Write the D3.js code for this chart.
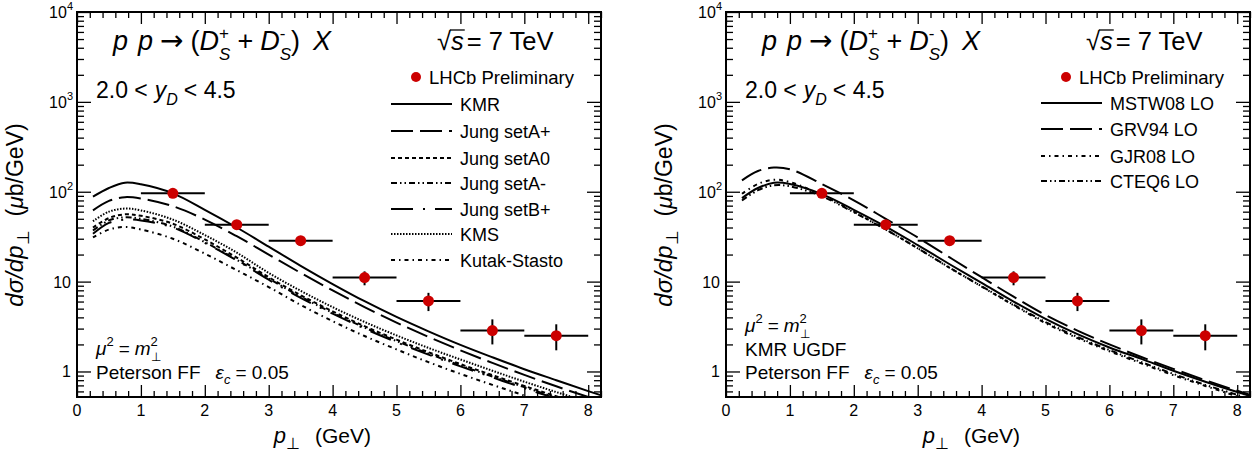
<!DOCTYPE html>
<html><head><meta charset="utf-8">
<script src="https://cdn.jsdelivr.net/npm/d3@7"></script>
<style>
body{margin:0;background:#fff}
svg{display:block}
text{font-family:"Liberation Sans", Arial, Helvetica, sans-serif; fill:#000}
</style>
</head><body>
<svg id="c" width="1259" height="463"></svg>
<script>
// ---------------- data ----------------
const ptGrid = [0.25, 0.5, 0.75, 1.0, 1.5, 2.0, 2.5, 3.0, 3.5, 4.0, 4.5, 5.0, 5.5, 6.0, 6.5, 7.0, 7.5, 8.0, 8.5];

// left panel: UGDF comparison
const kmr          = [88, 110, 126, 121, 96, 63, 40, 24.5, 15.0, 9.4, 6.05, 4.05, 2.8, 1.98, 1.44, 1.06, 0.8, 0.605, 0.465];
const jungSetAp    = [62, 79, 87, 84, 69, 49, 32, 20, 12.5, 7.98, 5.2, 3.5, 2.43, 1.72, 1.245, 0.916, 0.684, 0.52, 0.40];
const jungSetA0    = [40, 51, 56, 54, 44, 29.5, 18.5, 11.2, 7.06, 4.67, 3.19, 2.26, 1.64, 1.21, 0.91, 0.69, 0.53, 0.41, 0.32];
const jungSetAm    = [37, 48, 52, 50, 41, 27.5, 17.5, 10.8, 6.8, 4.5, 3.08, 2.18, 1.58, 1.17, 0.88, 0.67, 0.51, 0.39, 0.31];
const jungSetBp    = [34, 45, 49, 48, 40, 27, 17.2, 10.5, 6.6, 4.4, 3.0, 2.12, 1.54, 1.14, 0.86, 0.65, 0.5, 0.38, 0.30];
const kms          = [47, 60, 65, 62, 49, 33, 21, 12.5, 7.9, 5.2, 3.56, 2.52, 1.83, 1.36, 1.02, 0.77, 0.59, 0.46, 0.36];
const kutakStasto  = [31, 38, 40.5, 38, 30, 20.5, 13.4, 8.7, 5.5, 3.63, 2.48, 1.76, 1.27, 0.94, 0.71, 0.54, 0.41, 0.32, 0.25];

// right panel: PDF comparison
const mstw08 = [85, 110, 126, 122, 94, 63, 41, 25.5, 15.6, 9.7, 6.0, 3.85, 2.6, 1.85, 1.38, 1.02, 0.77, 0.59, 0.46];
const grv94  = [134, 170, 186, 178, 122, 80, 50, 31, 18.6, 11.2, 6.8, 4.25, 2.85, 2.0, 1.45, 1.07, 0.8, 0.61, 0.47];
const gjr08  = [95, 122, 136, 128, 92, 60, 38, 23.5, 14.2, 8.8, 5.45, 3.45, 2.35, 1.68, 1.23, 0.91, 0.69, 0.53, 0.41];
const cteq6  = [80, 104, 118, 115, 89, 59, 38, 23.5, 14.3, 8.9, 5.55, 3.55, 2.42, 1.73, 1.27, 0.94, 0.71, 0.55, 0.42];

// LHCb preliminary data
const dataPt      = [1.5, 2.5, 3.5, 4.5, 5.5, 6.5, 7.5];
const dataVal     = [96, 43, 28.5, 11.1, 6.1, 2.85, 2.5];
const dataErrUp   = [3, 1.5, 1, 1.9, 1.4, 0.95, 0.85];
const dataErrDown = [3, 1.5, 1, 2.0, 1.4, 0.85, 0.78];
const binHalf = 0.5;

const xTickValues = [0, 1, 2, 3, 4, 5, 6, 7, 8];
const yTickValues = [1, 10, 100, 1000, 10000];
const yTickBase   = ["1", "10", "10", "10", "10"];
const yTickExp    = ["", "", "2", "3", "4"];

const leftNames  = ["KMR", "Jung setA+", "Jung setA0", "Jung setA-", "Jung setB+", "KMS", "Kutak-Stasto"];
const rightNames = ["MSTW08 LO", "GRV94 LO", "GJR08 LO", "CTEQ6 LO"];

// ---------------- styles ----------------
const DASH = {
  solid: null,
  longDash: "22,7",
  shortDash: "4,3",
  dashDotDot: "6,3,1.5,3,1.5,3",
  longDashDot: "22,10,2,10",
  dotted: "1.5,1.5",
  dashDot: "4,4,1.5,4"
};

const leftSeries = [
  {name: leftNames[0], values: kmr, dash: DASH.solid},
  {name: leftNames[1], values: jungSetAp, dash: DASH.longDash},
  {name: leftNames[2], values: jungSetA0, dash: DASH.shortDash},
  {name: leftNames[3], values: jungSetAm, dash: DASH.dashDotDot},
  {name: leftNames[4], values: jungSetBp, dash: DASH.longDashDot},
  {name: leftNames[5], values: kms, dash: DASH.dotted},
  {name: leftNames[6], values: kutakStasto, dash: DASH.dashDot}
];
const rightSeries = [
  {name: rightNames[0], values: mstw08, dash: DASH.solid},
  {name: rightNames[1], values: grv94, dash: DASH.longDash},
  {name: rightNames[2], values: gjr08, dash: DASH.dashDot},
  {name: rightNames[3], values: cteq6, dash: DASH.dashDotDot}
];

const svg = d3.select("#c");
const RED = "#cc0000";

// rich text helper: lays out parts horizontally, returns {w, pos}
function rich(parent, x, y, parts, size, anchor, extraTransform) {
  const g = parent.append("g");
  let cx = 0, prevStart = 0, prevW = 0;
  const pos = [];
  parts.forEach(p => {
    if (p.gap !== undefined) { cx += p.gap; pos.push({x: cx, w: 0}); return; }
    const fs = p.sz || size;
    const sx = p.stack ? prevStart : cx;
    const t = g.append("text")
      .attr("x", sx).attr("y", p.dy || 0)
      .attr("font-size", fs)
      .attr("font-style", p.it ? "italic" : "normal")
      .text(p.t);
    if (p.ff) t.style("font-family", p.ff);
    const w = t.node().getComputedTextLength();
    pos.push({x: sx, w: w});
    if (p.stack) {
      cx = prevStart + Math.max(prevW, w);
    } else {
      prevStart = cx; prevW = w; cx += w;
    }
  });
  const f = anchor === "middle" ? 0.5 : anchor === "end" ? 1 : 0;
  const ox = -cx * f;
  g.attr("transform", `translate(${x},${y})${extraTransform || ""} translate(${ox},0)`);
  return {g, w: cx, ox, pos};
}

const Y0 = 12, Y1 = 397;

function panel(cfg) {
  const x = d3.scaleLinear().domain([0, 8.2]).range([cfg.x0, cfg.x1]);
  const y = d3.scaleLog().domain([0.52, 10000]).range([Y1, Y0]);
  const g = svg.append("g");

  const clipId = "clip" + cfg.id;
  svg.append("clipPath").attr("id", clipId).append("rect")
    .attr("x", cfg.x0).attr("y", Y0).attr("width", cfg.x1 - cfg.x0).attr("height", Y1 - Y0);

  // axes ticks (inward)
  const xMinor = d3.range(0, 8.21, 0.2).filter(v => Math.abs(v - Math.round(v)) > 1e-6);
  const yMinor = [];
  for (let e = -1; e < 4; e++) for (let m = 2; m <= 9; m++) { const v = m * Math.pow(10, e); if (v >= 0.52 && v <= 10000) yMinor.push(v); }

  function addAxis(axisFn, scale, values, size, transform) {
    const a = g.append("g").attr("transform", transform)
      .call(axisFn(scale).tickValues(values).tickSize(-size).tickFormat(""));
    a.select(".domain").remove();
    a.selectAll("line").attr("stroke", "#000").attr("stroke-width", 1.3);
  }
  addAxis(d3.axisBottom, x, xTickValues, 12, `translate(0,${Y1})`);
  addAxis(d3.axisBottom, x, xMinor, 6, `translate(0,${Y1})`);
  addAxis(d3.axisTop, x, xTickValues, 12, `translate(0,${Y0})`);
  addAxis(d3.axisTop, x, xMinor, 6, `translate(0,${Y0})`);
  addAxis(d3.axisLeft, y, yTickValues, 14, `translate(${cfg.x0},0)`);
  addAxis(d3.axisLeft, y, yMinor, 7, `translate(${cfg.x0},0)`);
  addAxis(d3.axisRight, y, yTickValues, 14, `translate(${cfg.x1},0)`);
  addAxis(d3.axisRight, y, yMinor, 7, `translate(${cfg.x1},0)`);

  // frame
  g.append("rect").attr("x", cfg.x0).attr("y", Y0).attr("width", cfg.x1 - cfg.x0).attr("height", Y1 - Y0)
    .attr("fill", "none").attr("stroke", "#000").attr("stroke-width", 2);

  // tick labels
  xTickValues.forEach(v => {
    g.append("text").attr("x", x(v)).attr("y", Y1 + 19).attr("text-anchor", "middle")
      .attr("font-size", 16).text(v);
  });
  yTickValues.forEach((v, i) => {
    if (yTickExp[i] === "") {
      g.append("text").attr("x", cfg.x0 - 6).attr("y", y(v) + 6).attr("text-anchor", "end")
        .attr("font-size", 16).text(yTickBase[i]);
    } else {
      rich(g, cfg.x0 - 4, y(v) + 6, [{t: yTickBase[i]}, {t: yTickExp[i], sz: 11, dy: -8}], 16, "end");
    }
  });

  // curves
  const line = d3.line().x(d => x(d[0])).y(d => y(d[1])).curve(d3.curveCatmullRom.alpha(0.5));
  const cg = g.append("g").attr("clip-path", `url(#${clipId})`);
  cfg.series.slice().reverse().forEach(s => {
    cg.append("path").datum(ptGrid.map((p, i) => [p, s.values[i]]))
      .attr("d", line).attr("fill", "none").attr("stroke", "#000").attr("stroke-width", 2)
      .attr("stroke-dasharray", s.dash);
  });

  // data points
  const dg = g.append("g");
  dataPt.forEach((p, i) => {
    dg.append("line").attr("x1", x(p - binHalf)).attr("x2", x(p + binHalf))
      .attr("y1", y(dataVal[i])).attr("y2", y(dataVal[i])).attr("stroke", "#000").attr("stroke-width", 2);
    dg.append("line").attr("x1", x(p)).attr("x2", x(p))
      .attr("y1", y(dataVal[i] + dataErrUp[i])).attr("y2", y(dataVal[i] - dataErrDown[i]))
      .attr("stroke", "#000").attr("stroke-width", 2);
  });
  dg.selectAll("circle").data(dataPt).join("circle")
    .attr("cx", d => x(d)).attr("cy", (d, i) => y(dataVal[i])).attr("r", 5.5).attr("fill", RED);

  // legend
  const L = cfg.legend;
  g.append("circle").attr("cx", L.dotX).attr("cy", L.rows[0]).attr("r", 5).attr("fill", RED);
  g.append("text").attr("x", L.dotX + 13).attr("y", L.rows[0] + 6.5).attr("font-size", 18.5).text("LHCb Preliminary");
  cfg.series.forEach((s, i) => {
    const ry = L.rows[i + 1];
    g.append("line").attr("x1", L.lx0).attr("x2", L.lx1).attr("y1", ry).attr("y2", ry)
      .attr("stroke", "#000").attr("stroke-width", 2).attr("stroke-dasharray", s.dash);
    g.append("text").attr("x", L.tx).attr("y", ry + 6.5).attr("font-size", 18).text(s.name);
  });

  // title
  rich(g, cfg.x0 + 36, 50, [
    {t: "p", it: 1}, {gap: 10}, {t: "p", it: 1}, {gap: 7}, {t: "→", ff: "DejaVu Sans", sz: 28}, {gap: 7}, {t: "("}, {t: "D", it: 1},
    {t: "+", sz: 17, dy: -11}, {t: "S", it: 1, sz: 17, dy: 10, stack: 1}, {gap: 7}, {t: "+"}, {gap: 7},
    {t: "D", it: 1}, {t: "-", sz: 17, dy: -11}, {t: "S", it: 1, sz: 17, dy: 10, stack: 1}, {t: ")"}, {gap: 13}, {t: "X", it: 1}
  ], 27, "start");

  const sq = rich(g, cfg.x0 + 360, 50, [{t: "√"}, {t: "s", it: 1}, {gap: 3}, {t: "= 7 TeV"}], 25.5, "start");
  sq.g.append("line").attr("x1", sq.pos[0].x + sq.pos[0].w - 1).attr("x2", sq.pos[1].x + sq.pos[1].w + 1)
    .attr("y1", -20).attr("y2", -20).attr("stroke", "#000").attr("stroke-width", 1.3);

  rich(g, cfg.x0 + 19, 98, [{t: "2.0 <"}, {gap: 7}, {t: "y", it: 1}, {t: "D", it: 1, sz: 16, dy: 7}, {gap: 6}, {t: "< 4.5"}], 23, "start");

  // bottom-left annotations
  const bl = cfg.bottomRows;
  rich(g, cfg.x0 + 19, bl[0], [{t: "μ", it: 1}, {t: "2", sz: 13, dy: -9}, {gap: 5}, {t: "="}, {gap: 5},
    {t: "m", it: 1}, {t: "2", sz: 13, dy: -9}, {t: "⊥", sz: 12, dy: 6, stack: 1}], 19, "start");
  if (cfg.ugdf) {
    g.append("text").attr("x", cfg.x0 + 19).attr("y", bl[1]).attr("font-size", 19).text("KMR UGDF");
  }
  rich(g, cfg.x0 + 19, bl[bl.length - 1], [{t: "Peterson FF"}, {gap: 15}, {t: "ε", it: 1}, {t: "c", it: 1, sz: 13, dy: 5},
    {gap: 5}, {t: "= 0.05"}], 19, "start");

  // axis titles
  rich(g, cfg.x0 - 54, 215, [{t: "dσ/dp", it: 1}, {t: "⊥", sz: 17, dy: 6}, {gap: 14}, {t: "(", sz: 23}, {t: "μ", it: 1, sz: 23}, {t: "b/GeV)", sz: 23}],
    24, "middle", " rotate(-90)");
  rich(g, cfg.x0 + 294, 443, [{t: "p", it: 1, sz: 22}, {t: "⊥", sz: 16, dy: 6}, {gap: 15}, {t: "(GeV)"}], 21, "end");
}

panel({
  id: "L", x0: 77, x1: 601, series: leftSeries,
  legend: {dotX: 416, lx0: 391, lx1: 452, tx: 460, rows: [77, 104, 131, 158, 183, 209, 234, 260]},
  bottomRows: [355, 379], ugdf: false
});
panel({
  id: "R", x0: 726, x1: 1250, series: rightSeries,
  legend: {dotX: 1066, lx0: 1041, lx1: 1102, tx: 1110, rows: [77, 103, 129, 156, 181]},
  bottomRows: [332, 356, 379], ugdf: true
});
</script>
</body></html>
